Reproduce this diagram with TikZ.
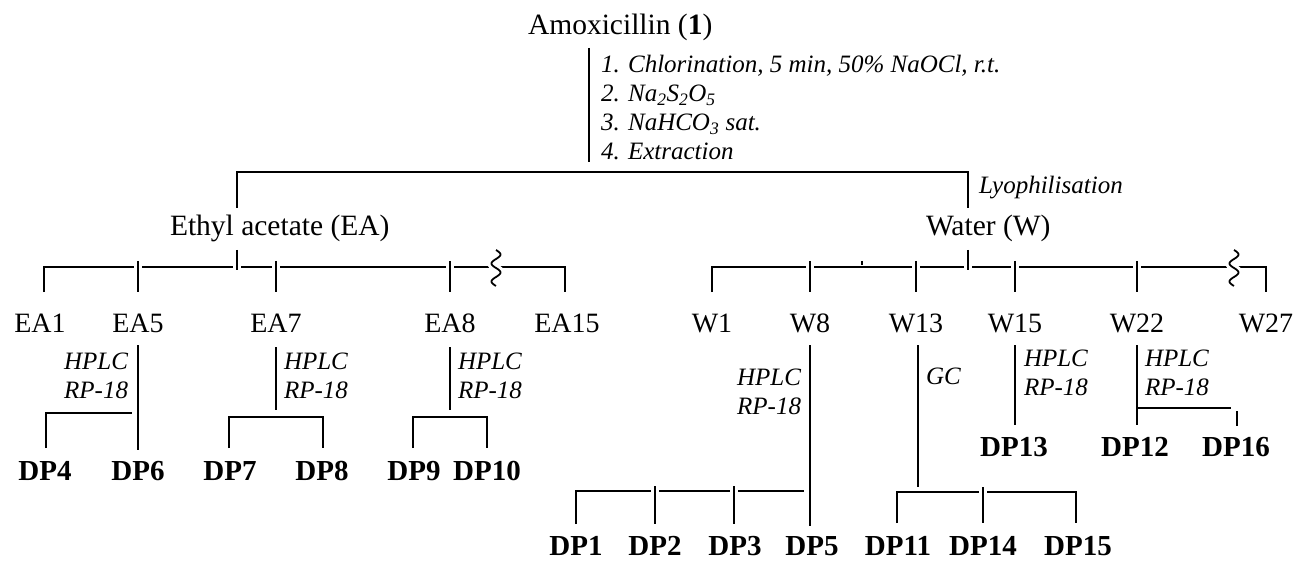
\documentclass[tikz,border=0pt]{standalone}
\usepackage{fontspec}
\setmainfont{Liberation Serif}
\begin{document}
\begin{tikzpicture}[x=1pt,y=-1pt,line width=2pt,
  top/.style={inner sep=0pt,font=\fontsize{29.5}{34}\selectfont},
  lab/.style={inner sep=0pt,font=\fontsize{28}{32}\selectfont},
  dp/.style={inner sep=0pt,font=\fontsize{29}{33}\selectfont\bfseries},
  cond/.style={inner sep=0pt,font=\fontsize{25}{29}\selectfont\itshape,align=left},
  condr/.style={inner sep=0pt,font=\fontsize{25}{29}\selectfont\itshape,align=right},
  tk/.style={preaction={draw,white,line width=8pt}},
  wavy/.style={preaction={draw,white,line width=8pt},line width=1.8pt}]
\useasboundingbox (0,0) rectangle (1296,564);

% ---------- top
\node[top,anchor=base west] (amox) at (527,35) {Amoxicillin (\textbf{1})};
\coordinate (a0) at (589,48);
\coordinate (a1) at (589,162);
\draw (a0) -- (a1);
\node[cond,anchor=west] (steps) at (600,108) {1. Chlorination, 5 min, 50\% NaOCl, r.t.\\
2. Na\textsubscript{2}S\textsubscript{2}O\textsubscript{5}\\
3. NaHCO\textsubscript{3} sat.\\
4. Extraction};

\coordinate (tl) at (237,172);
\coordinate (tr) at (968,172);
\coordinate (tlb) at (237,208);
\coordinate (trb) at (968,208);
\draw (tlb) -- (tl) -- (tr) -- (trb);
\node[cond,anchor=base west] (lyo) at (978,194) {Lyophilisation};

\node[top,anchor=base west] (ea) at (169,236) {Ethyl acetate (EA)};
\node[top,anchor=base west] (w) at (925,236) {Water (W)};

% ---------- EA bar
\coordinate (eL) at (44,267);
\coordinate (eR) at (565,267);
\draw (44,292) -- (eL) -- (eR) -- (565,292);
\draw[tk] (237,250) -- (237,270);
\draw[tk] (138,261) -- (138,292);
\draw[tk] (276,261) -- (276,292);
\draw[tk] (450,261) -- (450,292);
\draw[wavy,domain=0:1,samples=60,smooth,variable=\t]
  plot ({496+4.5*sin(\t*720)},{250+\t*36});

\node[lab] (ea1) at (40,323) {EA1};
\node[lab] (ea5) at (138,323) {EA5};
\node[lab] (ea7) at (276,323) {EA7};
\node[lab] (ea8) at (450,323) {EA8};
\node[lab] (ea15) at (567,323) {EA15};

% ---------- W bar
\coordinate (wL) at (712,267);
\coordinate (wR) at (1266,267);
\draw (712,292) -- (wL) -- (wR) -- (1266,292);
\draw[tk] (968,250) -- (968,270);
\draw[tk] (810,261) -- (810,292);
\draw[tk] (862,261) -- (862,265);
\draw[tk] (916,261) -- (916,292);
\draw[tk] (1015,261) -- (1015,292);
\draw[tk] (1137,261) -- (1137,292);
\draw[wavy,domain=0:1,samples=60,smooth,variable=\t]
  plot ({1234+4.5*sin(\t*720)},{250+\t*36});

\node[lab] (w1) at (712,323) {W1};
\node[lab] (w8) at (810,323) {W8};
\node[lab] (w13) at (916,323) {W13};
\node[lab] (w15) at (1015,323) {W15};
\node[lab] (w22) at (1137,323) {W22};
\node[lab] (w27) at (1266,323) {W27};

% ---------- EA5
\draw (138,345) -- (138,450);
\node[condr,anchor=east] (c5) at (129,376) {HPLC\\RP-18};
\draw (46,448) -- (46,413) -- (132,413);
\node[dp] (dp4) at (45,471) {DP4};
\node[dp] (dp6) at (138,471) {DP6};

% ---------- EA7
\draw (276,347) -- (276,410);
\node[cond,anchor=west] (c7) at (283,376) {HPLC\\RP-18};
\draw (229,448) -- (229,417) -- (323,417) -- (323,448);
\node[dp] (dp7) at (230,471) {DP7};
\node[dp] (dp8) at (322,471) {DP8};

% ---------- EA8
\draw (450,347) -- (450,410);
\node[cond,anchor=west] (c8) at (457,376) {HPLC\\RP-18};
\draw (413,448) -- (413,417) -- (487,417) -- (487,448);
\node[dp] (dp9) at (414,471) {DP9};
\node[dp] (dp10) at (487,471) {DP10};

% ---------- W8
\draw (810,345) -- (810,526);
\node[condr,anchor=east] (cw8) at (802,392) {HPLC\\RP-18};
\draw (576,524) -- (576,491) -- (804,491);
\draw[tk] (655,486) -- (655,524);
\draw[tk] (734,486) -- (734,524);
\node[dp] (dp1) at (576,546) {DP1};
\node[dp] (dp2) at (655,546) {DP2};
\node[dp] (dp3) at (735,546) {DP3};
\node[dp] (dp5) at (812,546) {DP5};

% ---------- W13
\draw (918,345) -- (918,487);
\node[cond,anchor=west] (cw13) at (925,376) {GC};
\draw (897,523) -- (897,492) -- (1076,492) -- (1076,523);
\draw[tk] (983,487) -- (983,523);
\node[dp] (dp11) at (898,546) {DP11};
\node[dp] (dp14) at (983,546) {DP14};
\node[dp] (dp15) at (1078,546) {DP15};

% ---------- W15
\draw (1015,345) -- (1015,425);
\node[cond,anchor=west] (cw15) at (1023,373) {HPLC\\RP-18};
\node[dp] (dp13) at (1014,447) {DP13};

% ---------- W22
\draw (1137,345) -- (1137,425);
\node[cond,anchor=west] (cw22) at (1144,373) {HPLC\\RP-18};
\draw (1137,408) -- (1231,408);
\draw (1237,411) -- (1237,426);
\node[dp] (dp12) at (1135,447) {DP12};
\node[dp] (dp16) at (1236,447) {DP16};
\end{tikzpicture}
\end{document}
